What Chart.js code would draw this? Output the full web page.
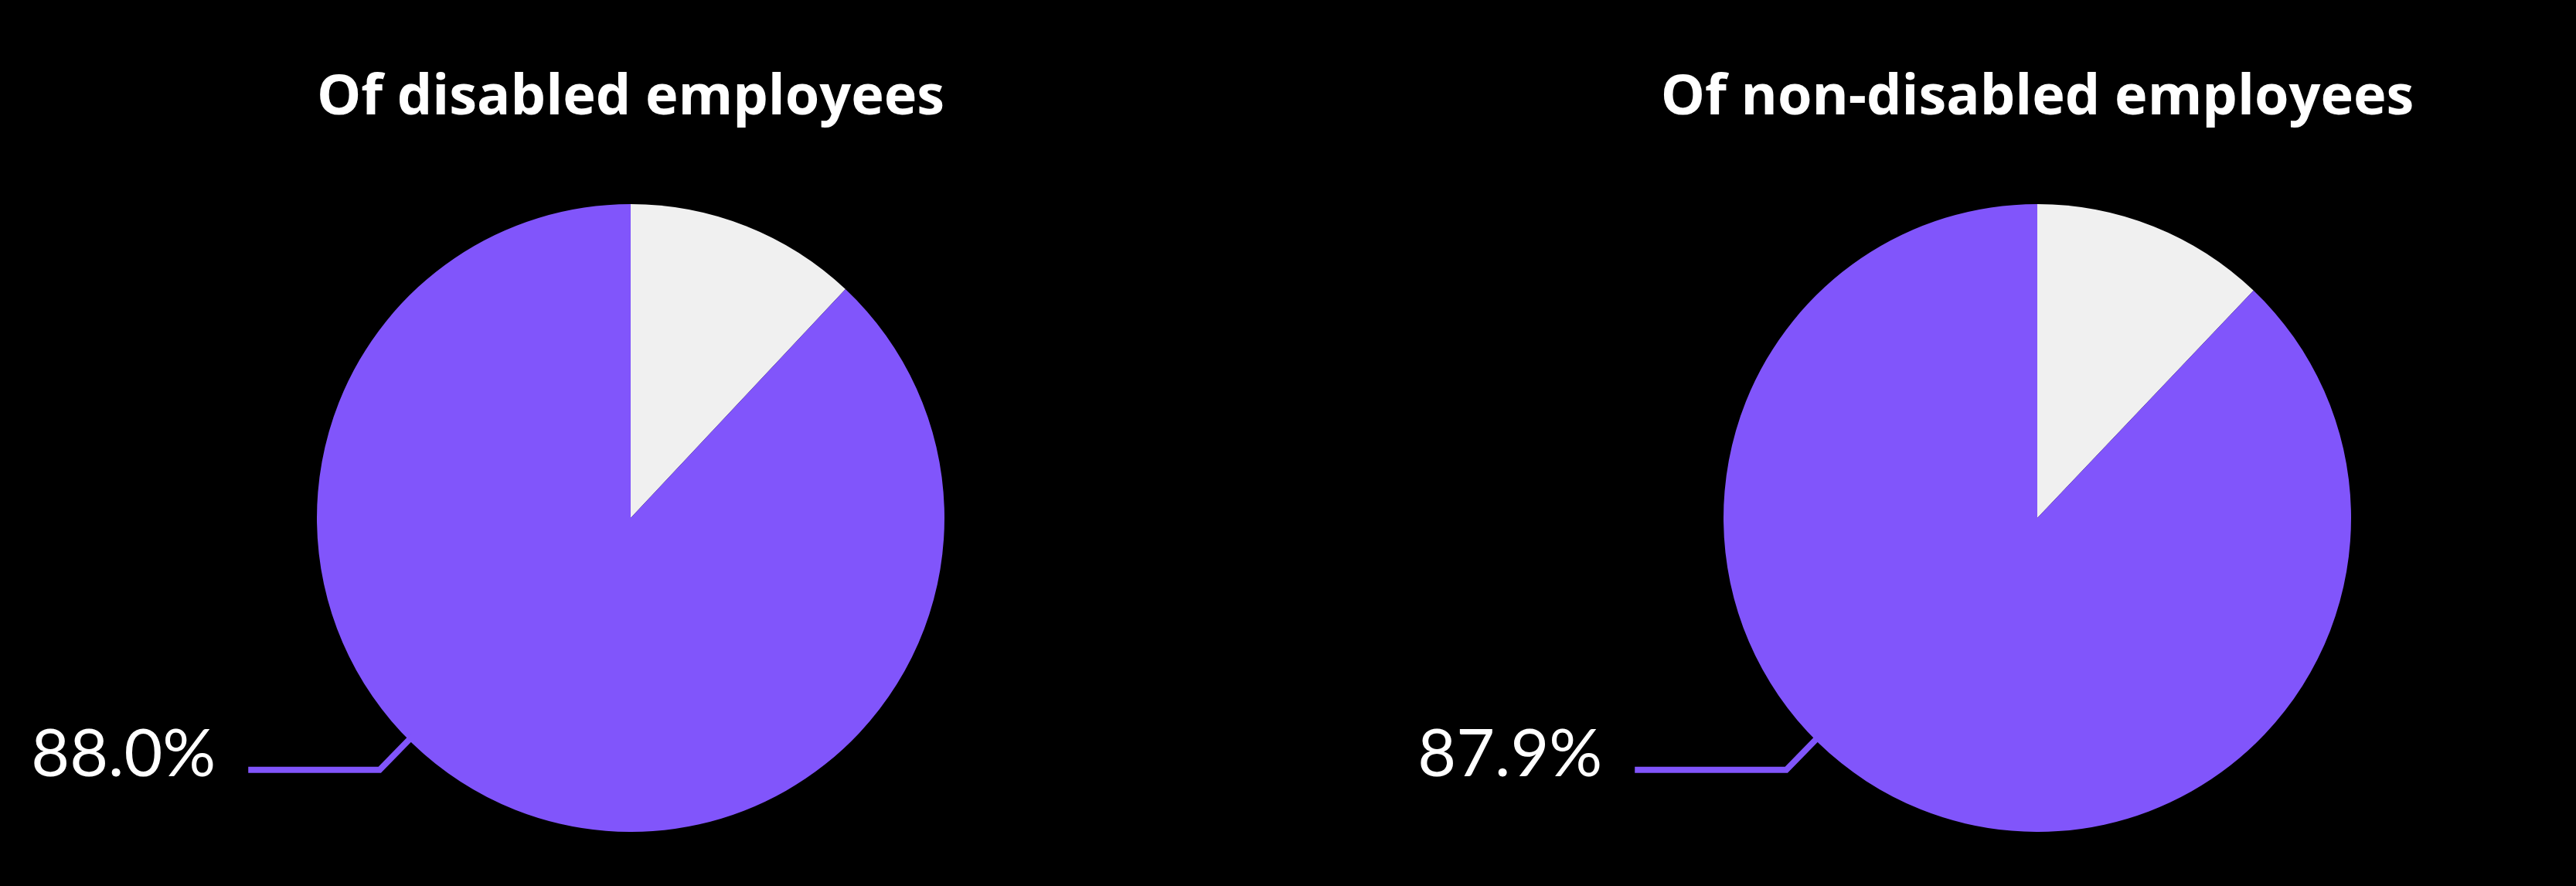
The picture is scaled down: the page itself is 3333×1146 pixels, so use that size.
<!DOCTYPE html>
<html>
<head>
<meta charset="utf-8">
<script src="https://cdn.jsdelivr.net/npm/chart.js@4/dist/chart.umd.min.js"></script>
<style>
  body { margin: 0; background: #000; width: 3333px; height: 1146px; overflow: hidden; position: relative; }
  .title { position: absolute; top: 70px; width: 1400px; text-align: center; color: #fff;
           font-family: "Open Sans", sans-serif; font-weight: 700; font-size: 72px; line-height: 100px; }
  .box { position: absolute; top: 264px; height: 812px; }
</style>
</head>
<body>
<div class="title" style="left:116px">Of disabled employees</div>
<div class="title" style="left:1936px">Of non-disabled employees</div>
<div class="box" style="left:0;width:1632px"><canvas id="pieLeft"></canvas></div>
<div class="box" style="left:1700px;width:1872px"><canvas id="pieRight"></canvas></div>
<script>
const categories = ['Other', 'Share'];
const disabledValues = [12.0, 88.0];
const nonDisabledValues = [12.1, 87.9];
const sliceColors = ['#f0f0f0', '#8155fb'];

function leaderPlugin(lineLen) {
  return {
    id: 'leader',
    afterDraw(chart) {
      const arc = chart.getDatasetMeta(0).data[1];
      const v = chart.data.datasets[0].data[1];
      const ctx = chart.ctx;
      const r = arc.outerRadius * 0.985;
      const ax = arc.x - r * Math.SQRT1_2, ay = arc.y + r * Math.SQRT1_2;
      const bx = ax - 42, by = ay + 43;
      const ex = bx - lineLen;
      ctx.save();
      ctx.strokeStyle = '#8155fb';
      ctx.lineWidth = 8;
      ctx.beginPath();
      ctx.moveTo(ax, ay); ctx.lineTo(bx, by); ctx.lineTo(ex, by);
      ctx.stroke();
      ctx.fillStyle = '#fff';
      ctx.font = '400 86px Lato, sans-serif';
      ctx.textAlign = 'right';
      ctx.textBaseline = 'middle';
      ctx.fillText(v.toFixed(1) + '%', ex - 42, by - 20);
      ctx.restore();
    }
  };
}

function makePie(id, values, lineLen) {
  new Chart(document.getElementById(id), {
    type: 'pie',
    data: {
      labels: categories,
      datasets: [{ data: values, backgroundColor: sliceColors, borderWidth: 0 }]
    },
    options: {
      responsive: true,
      maintainAspectRatio: false,
      animation: false,
      plugins: { legend: { display: false }, tooltip: { enabled: false } }
    },
    plugins: [leaderPlugin(lineLen)]
  });
}

makePie('pieLeft', disabledValues, 170);
makePie('pieRight', nonDisabledValues, 196);
</script>
</body>
</html>
